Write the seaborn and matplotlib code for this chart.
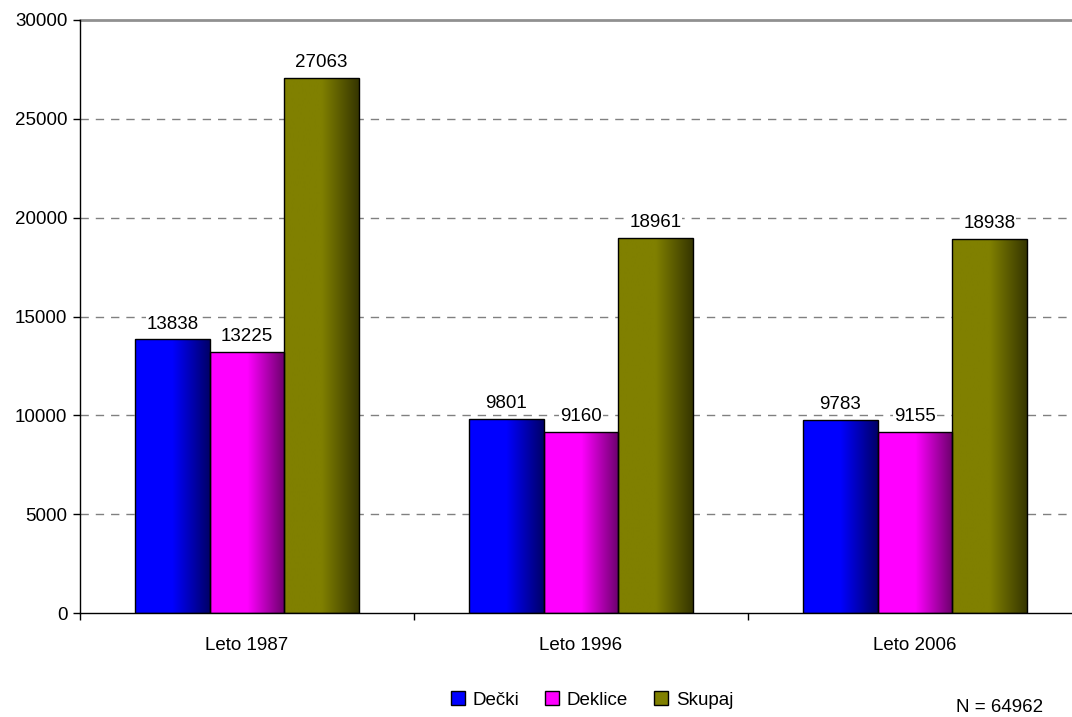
import matplotlib
matplotlib.use('Agg')
import matplotlib.pyplot as plt
import matplotlib.colors as mcolors
from matplotlib.patches import Patch
import numpy as np
import pandas as pd
import seaborn as sns

# data
years = ['Leto 1987', 'Leto 1996', 'Leto 2006']
groups = ['Dečki', 'Deklice', 'Skupaj']
decki = [13838, 9801, 9783]
deklice = [13225, 9160, 9155]
skupaj = [27063, 18961, 18938]
n_label = 'N = 64962'

# left (bright) and right (dark) colour of each bar gradient
light = ['#0000ff', '#ff00ff', '#808000']
dark = ['#000068', '#6a006a', '#363600']

df = pd.DataFrame({
    'leto': years * 3,
    'skupina': [g for g in groups for _ in years],
    'vrednost': decki + deklice + skupaj,
})

sns.set_style('white')
plt.rcParams['font.family'] = ['Liberation Sans', 'DejaVu Sans']
plt.rcParams['text.color'] = 'black'
plt.rcParams['xtick.color'] = 'black'
plt.rcParams['ytick.color'] = 'black'

fs = 13.5

fig = plt.figure(figsize=(10.72, 7.17), dpi=100)
ax = fig.add_axes([80 / 1072, 1 - 613 / 717, 1 - 80 / 1072, (613 - 20) / 717])

sns.barplot(data=df, x='leto', y='vrednost', hue='skupina', order=years,
            hue_order=groups, palette=light, width=0.67, ax=ax,
            edgecolor='black', linewidth=1.0, legend=False, saturation=1)

# gradient fill inside every bar, clipped to the bar shape
bars = [p for p in ax.patches if p.get_height() > 0]
for p in bars:
    fc = mcolors.to_hex(p.get_facecolor()[:3])
    idx = light.index(fc)
    cmap = mcolors.LinearSegmentedColormap.from_list('g', [light[idx], light[idx], dark[idx]])
    x0, w, h = p.get_x(), p.get_width(), p.get_height()
    grad = np.linspace(0, 1, 256).reshape(1, -1)
    im = ax.imshow(grad, cmap=cmap, aspect='auto', extent=[x0, x0 + w, 0, h],
                   zorder=p.get_zorder() + 0.1, interpolation='bilinear')
    im.set_clip_path(p)
    p.set_facecolor('none')
    p.set_zorder(p.get_zorder() + 0.2)
    ax.annotate(f'{int(round(h))}', (x0 + w / 2, h), xytext=(0, 5),
                textcoords='offset points', ha='center', va='bottom',
                fontsize=fs, bbox=dict(facecolor='white', edgecolor='none', pad=0.5),
                zorder=5)

ax.set_xlim(-0.5, 2.5 - 10 / 334)
ax.set_ylim(0, 30000)
ax.set_yticks(range(0, 30001, 5000))
ax.set_xlabel('')
ax.set_ylabel('')

for y in range(5000, 30000, 5000):
    ax.axhline(y, color='#808080', linestyle=(0, (6, 5)), linewidth=1.0, zorder=0)
ax.axhline(30000, color='#909090', linewidth=2.0, zorder=0, clip_on=False)

for s in ['top', 'right']:
    ax.spines[s].set_visible(False)
for s in ['left', 'bottom']:
    ax.spines[s].set_color('black')
    ax.spines[s].set_linewidth(1.0)

ax.tick_params(axis='y', which='major', left=True, length=5, width=1,
               direction='out', labelsize=fs, pad=4)
ax.tick_params(axis='x', which='major', bottom=False, labelsize=fs, pad=14)
ax.set_xticks([-0.5, 0.5, 1.5], minor=True)
ax.tick_params(axis='x', which='minor', bottom=True, length=5, width=1,
               direction='out')

handles = [Patch(facecolor=c, edgecolor='black', linewidth=1.0) for c in light]
fig.legend(handles, groups, loc='center', bbox_to_anchor=(592 / 1072, 1 - 700 / 717),
           ncol=3, frameon=False, fontsize=fs, handlelength=0.75, handleheight=0.75,
           handletextpad=0.4, columnspacing=1.4)

fig.text(1000 / 1072, 1 - 707 / 717, n_label, ha='center', va='center', fontsize=fs)

fig.savefig('out.png', dpi=100)
